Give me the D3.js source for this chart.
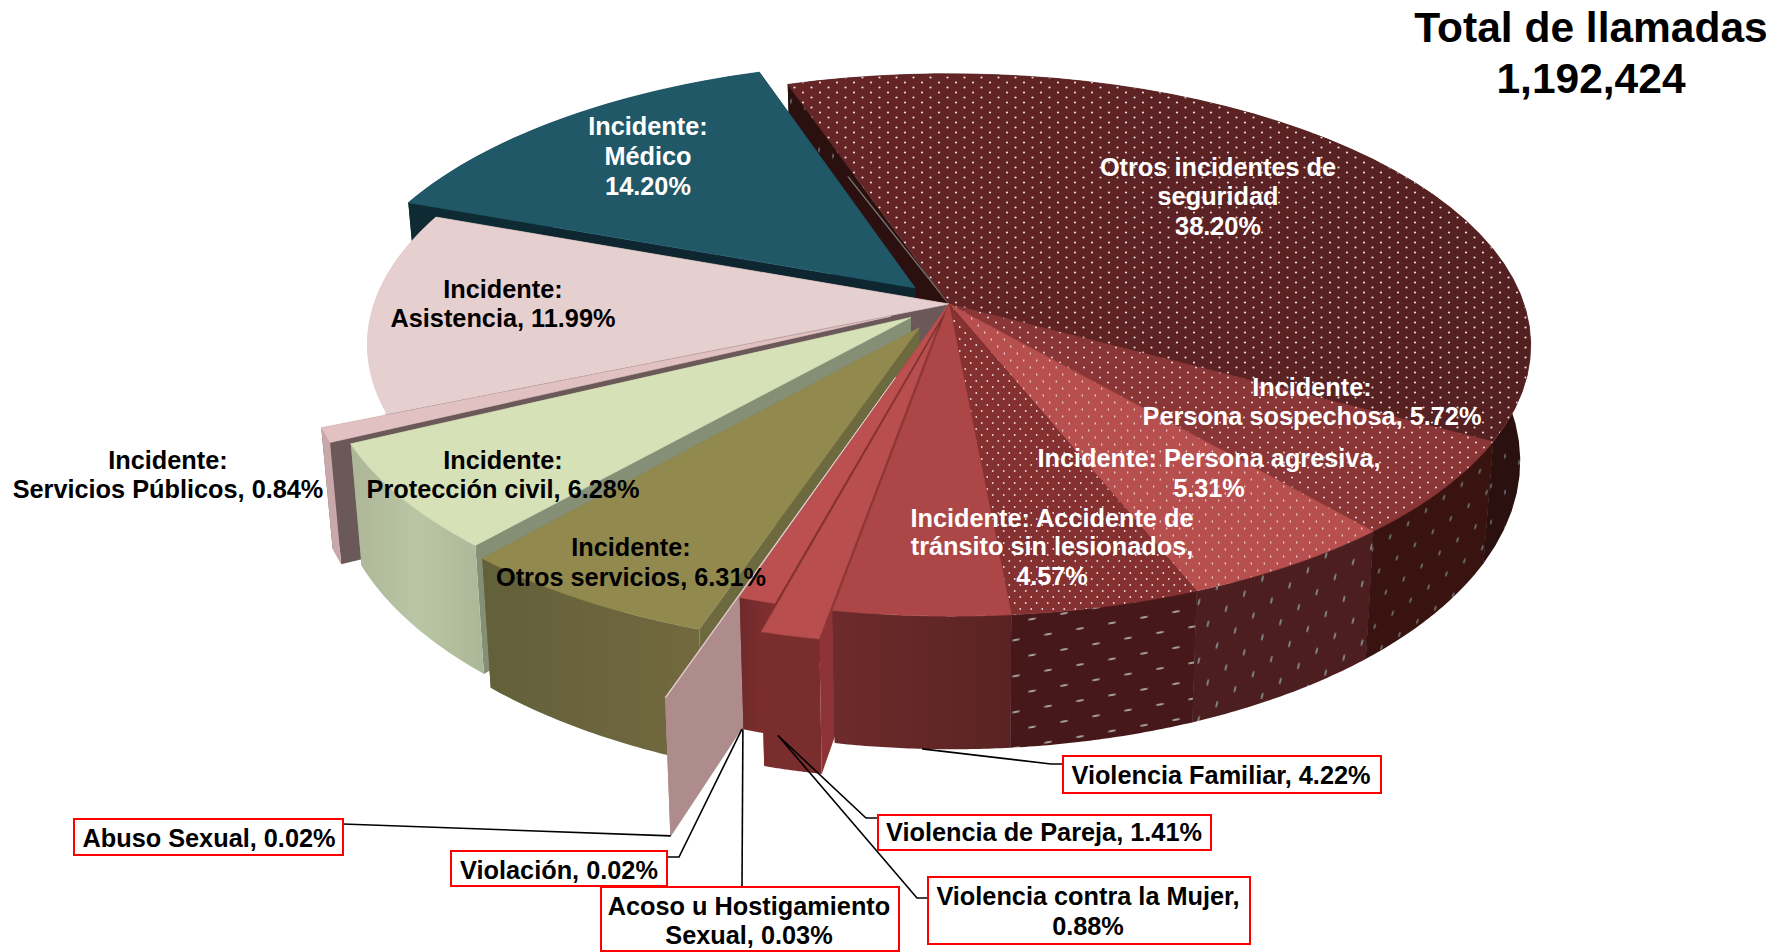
<!DOCTYPE html>
<html><head><meta charset="utf-8"><title>Total de llamadas</title>
<script src="https://cdn.jsdelivr.net/npm/d3@7/dist/d3.min.js"></script>
<style>html,body{margin:0;padding:0;background:#fff}svg{display:block}
text{font-family:"Liberation Sans",Arial,sans-serif;font-weight:700;text-anchor:middle}</style>
</head><body><svg id="c" width="1788" height="952"></svg>
<script>
// ---- data ----
const titleLines = ["Total de llamadas", "1,192,424"];
const categories = ["Otros incidentes de seguridad","Incidente: Persona sospechosa","Incidente: Persona agresiva","Incidente: Accidente de tránsito sin lesionados","Violencia Familiar","Violencia de Pareja","Violencia contra la Mujer","Acoso u Hostigamiento Sexual","Violación","Abuso Sexual","Incidente: Otros servicios","Incidente: Protección civil","Incidente: Servicios Públicos","Incidente: Asistencia","Incidente: Médico"];
const values = [38.20,5.72,5.31,4.57,4.22,1.41,0.88,0.03,0.02,0.02,6.31,6.28,0.84,11.99,14.20];
const explosion = [0,0,0,0,0,0.08,0,0,0,0.28,0.102,0.083,0.11,0,0.085];
const labelLines = [
 ["Otros incidentes de","seguridad","38.20%"],["Incidente:","Persona sospechosa, 5.72%"],["Incidente: Persona agresiva,","5.31%"],
 ["Incidente: Accidente de","tránsito sin lesionados,","4.57%"],["Violencia Familiar, 4.22%"],["Violencia de Pareja, 1.41%"],
 ["Violencia contra la Mujer,","0.88%"],["Acoso u Hostigamiento","Sexual, 0.03%"],["Violación, 0.02%"],["Abuso Sexual, 0.02%"],
 ["Incidente:","Otros servicios, 6.31%"],["Incidente:","Protección civil, 6.28%"],["Incidente:","Servicios Públicos, 0.84%"],
 ["Incidente:","Asistencia, 11.99%"],["Incidente:","Médico","14.20%"]];

// ---- styling and layout, by slice index ----
const topBase = ["url(#gOtr)","#8A3636","#B84F4F","#853132","#AD4646","#B84E4E","#BC4F4F","#C05252","#C05252","#E6CDCD","#92894F","#D6E1B7","#E2C1C3","#E6CFCF","#205868"];
const topDots = ["url(#tOtros)","url(#tSosp)","url(#tAgr)","url(#tAcc)",null,null,null,null,null,null,null,null,null,null,null];
const edgeColor = ["#5A2223","#8A3636","#B84F4F","#853132","#AD4646","#8E3A3A","#BC4F4F","#C05252","#C05252","#E8D4D4","#92894F","#D6E1B7","#E2C1C3","#E6CFCF","#205868"];
const wallFill = ["url(#wOtros)","url(#wSosp)","url(#wAgr)","url(#wAcc)","url(#gFam)","#7A2D2D","url(#gMuj)","#8A3333","#8A3333","#AF8C8C","url(#gOli)","url(#gGre)","#C8A8AA","#CDB8B8","#0E2A33"];
const radialFill = ["#2C100F","#2C100F","#2C100F","#2C100F","#5E2424","#8E3436","#7E2F2F","#8A3333","#8A3333","#AF8C8C","#6E6A3F","#858F76","#6B5859","#6B5859","#0E2630"];
const labelColor = ["#fff","#fff","#fff","#fff","#000","#000","#000","#000","#000","#000","#000","#000","#000","#000","#fff"];
const labelPos = [[1218,[176,205,235]],[1312,[396,425]],[1209,[467,497]],[1052,[527,555,585]],[1221,[784]],[1044,[841]],[1088,[905,935]],[749,[915,944]],[559,[879]],[209,[847]],[631,[556,586]],[503,[469,498]],[168,[469,498]],[503,[298,327]],[648,[135,165,195]]];
const boxes = {4:[1063,756,318,37],5:[878,815,333,35],6:[928,877,322,67],7:[601,887,298,64],8:[451,851,216,35],9:[74,819,269,36]};
const leaders = [
 {i:4,theta:"mid",pts:[[1051,764],[1063,764]]},
 {i:5,theta:6,pts:[[866,818],[878,818]]},
 {i:6,theta:6,pts:[[917,898],[928,898]]},
 {i:7,theta:"mid",pts:[[742,887]]},
 {i:8,theta:"mid",pts:[[679,857],[667,857]]},
 {i:9,theta:"mid",pts:[[343,824]]}];

const svg = d3.select("#c");
const defs = svg.append("defs");
function dots(id,w,h,bg,items,xf){
  const p=defs.append("pattern").attr("id",id).attr("patternUnits","userSpaceOnUse").attr("width",w).attr("height",h);
  if(xf)p.attr("patternTransform",xf);
  if(bg)p.append("rect").attr("width",w).attr("height",h).attr("fill",bg);
  items.forEach(d=>p.append("ellipse").attr("cx",d[0]).attr("cy",d[1]).attr("rx",d[2]).attr("ry",d[3]).attr("fill",d[4]));
}
const dotC="#ecdcdc";
dots("tOtros",17,10,null,[[4,2.5,1.1,.9,dotC],[12.5,7.5,1.1,.9,dotC]]);
dots("tSosp",16,10,null,[[4,2.5,1,.9,dotC],[12,7.5,1,.9,dotC]]);
dots("tAgr",13,14,null,[[3.25,3.5,.6,1.3,dotC],[9.75,10.5,.6,1.3,dotC]]);
dots("tAcc",11,12,null,[[2.75,3,.9,.9,dotC],[8.25,9,.9,.9,dotC]]);
dots("wOtros",28,36,"#2A100E",[[7,9,.8,2.6,"#757a7a"],[21,27,.8,2.6,"#757a7a"]],"skewY(-40)");
dots("wSosp",26,36,"#38130F",[[6,9,.9,3,"#6f7676"],[19,27,.9,3,"#6f7676"]],"rotate(18)");
dots("wAgr",28,38,"#4C1E1F",[[7,9,1,3.5,"#808686"],[21,28,1,3.5,"#808686"]],"rotate(14)");
dots("wAcc",32,36,"#47181A",[[8,9,4,1,"#a8a4a4"],[24,27,4,1,"#a8a4a4"]],"skewY(-10)");
function grad(id,stops){
  const g=defs.append("linearGradient").attr("id",id).attr("x1",0).attr("x2",1).attr("y1",0).attr("y2",0);
  stops.forEach((c,i)=>g.append("stop").attr("offset",i/(stops.length-1)).attr("stop-color",c));
}
grad("gOtr",["#672526","#532021"]);
grad("gFam",["#6E2B2B","#5A2323"]);
grad("gMuj",["#6E2A2A","#862F30"]);
grad("gOli",["#62603A","#73693F"]);
grad("gGre",["#ADB798","#BAC5A5","#ABB898"]);

// ---- pie geometry with a perspective projection ----
const pie = d3.pie().sort(null).value(d=>d).startAngle(-18.7*Math.PI/180).endAngle((360-18.7)*Math.PI/180);
const arcs = pie(values);
const cx=949, cy=304, R=575, A=265, K=0.151, H=113, S=0.018;
const sx=d3.scaleLinear().domain([-1,1]).range([cx-R,cx+R]);
const sy=d3.scaleLinear().domain([-1,1]).range([cy-A,cy+A]);
function project(x,y,z){
  const w=1/(1-K*y);
  const X=sx(x*w*(1-S*z))+(y>0?3*y*y:0);
  return [X, sy(y*w)+H*w*z];
}
function point(i,theta,r,z){
  const a=arcs[i], mid=(a.startAngle+a.endAngle)/2, e=explosion[i];
  return project(r*Math.sin(theta)+e*Math.sin(mid), -r*Math.cos(theta)-e*Math.cos(mid), z);
}
const line=d3.line();
function rimAngles(a){ return d3.range(0,41).map(t=>a.startAngle+(a.endAngle-a.startAngle)*t/40); }
function topPath(i){ const a=arcs[i]; return line([point(i,a.startAngle,0,0),...rimAngles(a).map(t=>point(i,t,1,0))])+"Z"; }
function outerPath(i){ const a=arcs[i], t=rimAngles(a); return line([...t.map(v=>point(i,v,1,0)),...t.slice().reverse().map(v=>point(i,v,1,1))])+"Z"; }
function radialPath(i,theta){ return line([point(i,theta,0,0),point(i,theta,1,0),point(i,theta,1,1),point(i,theta,0,1)])+"Z"; }

const gPie=svg.append("g");
const drawRadials=i=>{
  const a=arcs[i];
  gPie.append("path").attr("d",radialPath(i,a.endAngle)).attr("fill",radialFill[i]);
  gPie.append("path").attr("d",radialPath(i,a.startAngle)).attr("fill",radialFill[i]);
};
const drawBody=i=>{
  gPie.append("path").attr("d",outerPath(i)).attr("fill",wallFill[i]);
  gPie.append("path").attr("d",topPath(i)).attr("fill",topBase[i]).attr("stroke",edgeColor[i]).attr("stroke-width",.7).attr("stroke-linejoin","round");
  if(topDots[i]) gPie.append("path").attr("d",topPath(i)).attr("fill",topDots[i]);
};
// painter's order, back to front
drawRadials(0);
gPie.append("path").attr("d",line([point(0,arcs[0].startAngle,0,0),point(0,arcs[0].startAngle,1,0.17)])).attr("stroke","#777").attr("stroke-width",1.3).attr("fill","none");
drawBody(0);
[14,13,12,11,10,7,8,9,6].forEach(i=>{drawRadials(i);drawBody(i);});
drawRadials(5);
[1,2,3,4,5].forEach(i=>{ if(i!==5) drawRadials(i); drawBody(i);});

// ---- leaders ----
const gLead=svg.append("g").attr("fill","none").attr("stroke","#000").attr("stroke-width",1.6);
leaders.forEach(l=>{
  const a=arcs[l.i];
  const theta=l.theta==="mid"?(a.startAngle+a.endAngle)/2:arcs[l.theta].startAngle;
  gLead.append("path").attr("d",line([point(l.theta==="mid"?l.i:l.theta,theta,1,1),...l.pts]));
});

// ---- boxes and labels ----
Object.entries(boxes).forEach(([i,b])=>{
  svg.append("rect").attr("x",b[0]).attr("y",b[1]).attr("width",b[2]).attr("height",b[3]).attr("fill","#fff").attr("stroke","#f00").attr("stroke-width",2);
});
labelLines.forEach((ls,i)=>{
  const [x,ys]=labelPos[i];
  ls.forEach((s,j)=>svg.append("text").attr("x",x).attr("y",ys[j]).attr("font-size",25.3).attr("fill",labelColor[i]).text(s));
});
titleLines.forEach((s,j)=>svg.append("text").attr("x",1591).attr("y",[42,93][j]).attr("font-size",42.5).attr("fill","#000").text(s));
</script></body></html>
